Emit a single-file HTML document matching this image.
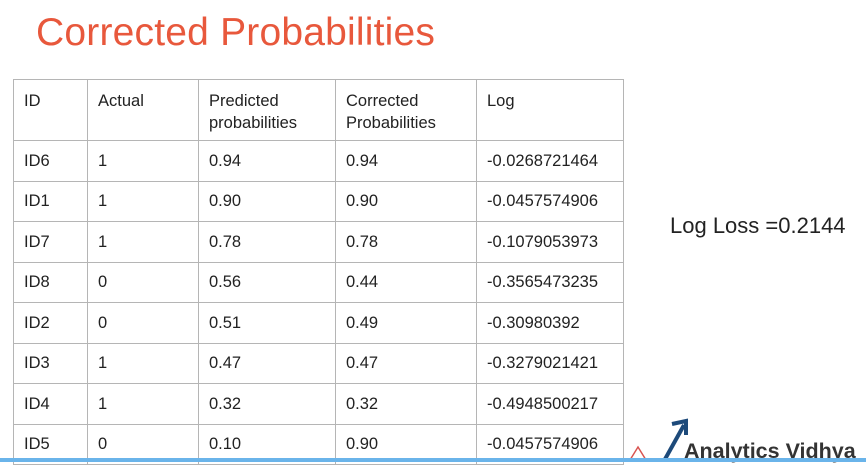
<!DOCTYPE html>
<html><head><meta charset="utf-8"><style>
body{margin:0;width:866px;height:462px;background:#fff;overflow:hidden;position:relative;font-family:"Liberation Sans",Arial,sans-serif;color:#222}
.t{position:absolute;left:36px;top:11px;font-size:39px;color:#e8583c;letter-spacing:0.2px}
table{position:absolute;left:13px;top:79px;border-collapse:collapse;font-size:16.5px}
td{border:1px solid #b5b5b5;padding:0 0 0 10px;vertical-align:middle;height:39.5px;line-height:22px}
tr.h td{height:61px;vertical-align:top;padding-top:10px;box-sizing:border-box}
.ll{position:absolute;left:670px;top:213px;font-size:22px;color:#222}
.bar{position:absolute;left:0;top:458px;width:866px;height:4px;background:#6ab4ea}
.av{position:absolute;left:684px;top:439px;font-size:21.5px;font-weight:bold;color:#333}
</style></head><body>
<div class="t">Corrected Probabilities</div>
<table>
<colgroup><col style="width:74px"><col style="width:111px"><col style="width:137px"><col style="width:141px"><col style="width:147px"></colgroup>
<tr class="h"><td>ID</td><td>Actual</td><td>Predicted<br>probabilities</td><td>Corrected<br>Probabilities</td><td>Log</td></tr>
<tr><td>ID6</td><td>1</td><td>0.94</td><td>0.94</td><td>-0.0268721464</td></tr>
<tr><td>ID1</td><td>1</td><td>0.90</td><td>0.90</td><td>-0.0457574906</td></tr>
<tr><td>ID7</td><td>1</td><td>0.78</td><td>0.78</td><td>-0.1079053973</td></tr>
<tr><td>ID8</td><td>0</td><td>0.56</td><td>0.44</td><td>-0.3565473235</td></tr>
<tr><td>ID2</td><td>0</td><td>0.51</td><td>0.49</td><td>-0.30980392</td></tr>
<tr><td>ID3</td><td>1</td><td>0.47</td><td>0.47</td><td>-0.3279021421</td></tr>
<tr><td>ID4</td><td>1</td><td>0.32</td><td>0.32</td><td>-0.4948500217</td></tr>
<tr><td>ID5</td><td>0</td><td>0.10</td><td>0.90</td><td>-0.0457574906</td></tr>
</table>
<div class="ll">Log Loss =0.2144</div>
<svg style="position:absolute;left:628px;top:415px" width="60" height="47">
<polyline points="2,45 10,32 18,45" fill="none" stroke="#d9534f" stroke-width="1.5"/>
<line x1="36" y1="46" x2="56" y2="10" stroke="#1d4a7a" stroke-width="4"/>
<polyline points="44,9 58,6 58,20" fill="none" stroke="#1d4a7a" stroke-width="4"/>
</svg>
<div class="av">Analytics Vidhya</div>
<div class="bar"></div>
</body></html>
